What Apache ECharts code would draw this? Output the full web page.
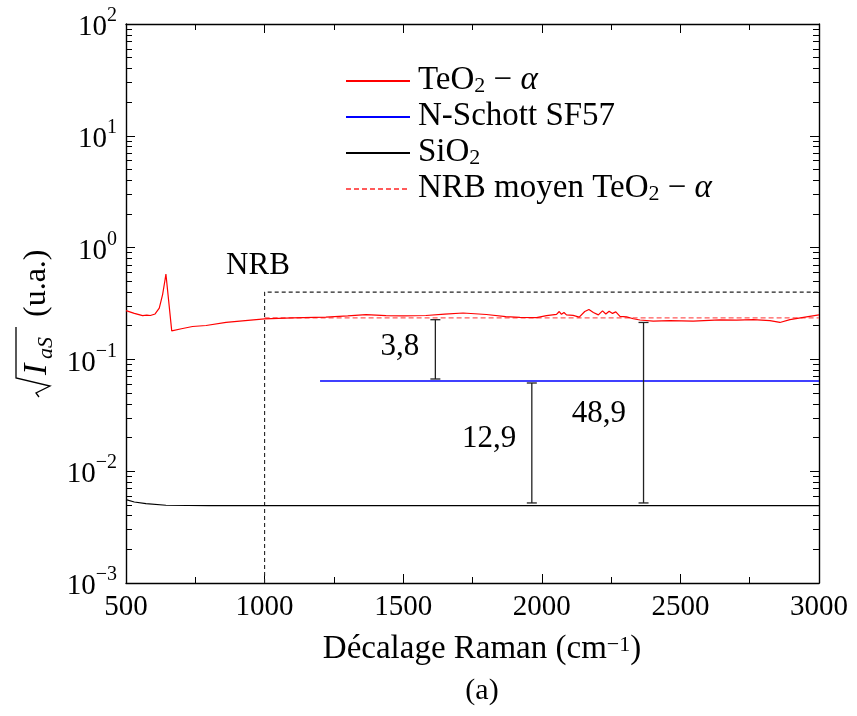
<!DOCTYPE html>
<html>
<head>
<meta charset="utf-8">
<script src="https://cdn.jsdelivr.net/npm/echarts@6/dist/echarts.min.js"></script>
<style>
html,body{margin:0;padding:0;background:#fff;}
#chart{width:857px;height:716px;}
</style>
</head>
<body>
<div id="chart"></div>
<script>
// ---- data ----
const redX = [500,530,560,575,582,588,593,605,620,632,640,644,665,700,740,789,861,930,1000,1100,1221,1300,1366,1438,1500,1582,1650,1716,1800,1870,1921,1981,2017,2053,2063,2071,2080,2089,2113,2135,2155,2170,2186,2204,2219,2231,2243,2255,2267,2282,2306,2330,2354,2402,2462,2546,2642,2703,2763,2823,2859,2895,2955,3000];
const redY = [0.273,0.258,0.246,0.249,0.255,0.247,0.239,0.255,0.288,0.38,0.5,0.58,0.18,0.188,0.197,0.201,0.214,0.222,0.23,0.235,0.239,0.245,0.251,0.246,0.245,0.247,0.254,0.26,0.252,0.241,0.238,0.236,0.246,0.253,0.268,0.253,0.263,0.25,0.248,0.239,0.268,0.279,0.263,0.25,0.272,0.255,0.27,0.258,0.266,0.243,0.24,0.231,0.225,0.22,0.222,0.22,0.226,0.225,0.227,0.222,0.214,0.227,0.24,0.25];
const blueX = [1200,3000];
const blueY = [0.0641,0.0641];
const blackX = [500,530,572,644,800,1000,2000,3000];
const blackY = [0.00556,0.0053,0.00512,0.00496,0.00493,0.00492,0.00492,0.00492];
const nrbMeanX = [1000,3000];
const nrbMeanY = [0.235,0.235];
const nrbBoxX = [1000,1000,3000];
const nrbBoxY = [0.001,0.4,0.4];
const barX = [1616,1964,2367];
const barLow = [0.0668,0.0052,0.0052];
const barHigh = [0.2265,0.0615,0.214];
const annText = ['3,8','12,9','48,9','NRB'];
const annX = [1488,1810,2206,976];
const annY = [0.130,0.0195,0.0327,0.689];
const xTicks = [500,1000,1500,2000,2500,3000];
const yTicks = [0.001,0.01,0.1,1,10,100];
const seriesNames = ['TeO2 − α','N-Schott SF57','SiO2','NRB moyen TeO2 − α'];
const seriesColors = ['#ff0000','#0000ff','#000000','#ff5a5a'];

// ---- helpers ----
const FONT = '"Liberation Serif", "DejaVu Serif", serif';
const zip = (xs, ys) => xs.map((x, i) => [x, ys[i]]);
const yMinor = [];
for (let e = -3; e <= 1; e++) for (let k = 2; k <= 9; k++) yMinor.push(+(k * Math.pow(10, e)).toPrecision(3));

function expLabel(v) {
  const e = Math.round(Math.log10(v));
  return '{b|10}{s|' + (e < 0 ? '−' + (-e) : e) + '}';
}
const tickRich = {
  b: {fontFamily: FONT, fontSize: 29, color: '#000', lineHeight: 36, verticalAlign: 'bottom'},
  s: {fontFamily: FONT, fontSize: 20, color: '#000', lineHeight: 20, verticalAlign: 'top'}
};
const txtRich = {
  n: {fontFamily: FONT, fontSize: 33, color: '#000', lineHeight: 32, verticalAlign: 'bottom'},
  sub: {fontFamily: FONT, fontSize: 22, color: '#000', lineHeight: 17, verticalAlign: 'bottom'},
  it: {fontFamily: FONT, fontSize: 33, fontStyle: 'italic', color: '#000', lineHeight: 32, verticalAlign: 'bottom'},
  sup: {fontFamily: FONT, fontSize: 22, color: '#000', lineHeight: 20, verticalAlign: 'top'}
};
function richName(name) {
  return name.split(/(2|α)/).filter(s => s).map(s => {
    if (s === '2') return '{sub|2}';
    if (s === 'α') return '{it|α}';
    return '{n|' + s + '}';
  }).join('');
}

const axisLineStyle = {color: '#000', width: 1.4};
const tickStyle = {color: '#000', width: 1};

const chart = echarts.init(document.getElementById('chart'), null, {renderer: 'canvas'});
chart.setOption({
  animation: false,
  backgroundColor: '#fff',
  grid: {left: 126, right: 38, top: 24, bottom: 133, containLabel: false},
  legend: {
    orient: 'vertical', left: 345, top: 64, padding: 0,
    itemWidth: 64, itemHeight: 14, itemGap: 3,
    data: seriesNames,
    formatter: name => richName(name),
    itemStyle: {opacity: 0},
    textStyle: {rich: txtRich, padding: [0, 0, 0, 3]}
  },
  xAxis: [
    {type: 'value', min: 500, max: 3000, interval: 500, position: 'bottom',
     axisLine: {lineStyle: axisLineStyle}, splitLine: {show: false},
     axisTick: {inside: true, length: 9, lineStyle: tickStyle},
     minorTick: {show: true, splitNumber: 2, length: 6, lineStyle: tickStyle},
     axisLabel: {fontFamily: FONT, fontSize: 29, color: '#000', margin: 10, customValues: xTicks,
       formatter: v => String(v)}},
    {type: 'value', min: 500, max: 3000, interval: 500, position: 'top',
     axisLine: {lineStyle: axisLineStyle}, splitLine: {show: false},
     axisTick: {inside: true, length: 9, lineStyle: tickStyle},
     minorTick: {show: true, splitNumber: 2, length: 6, lineStyle: tickStyle},
     axisLabel: {show: false}}
  ],
  yAxis: [
    {type: 'log', logBase: 10, min: 0.001, max: 100, position: 'left',
     axisLine: {lineStyle: axisLineStyle}, splitLine: {show: false},
     axisTick: {inside: true, length: 9, lineStyle: tickStyle, customValues: yTicks},
     axisLabel: {customValues: yTicks, formatter: expLabel, rich: tickRich, margin: 9}},
    {type: 'log', logBase: 10, min: 0.001, max: 100, position: 'right',
     axisLine: {lineStyle: axisLineStyle}, splitLine: {show: false},
     axisTick: {inside: true, length: 9, lineStyle: tickStyle, customValues: yTicks},
     axisLabel: {show: false}},
    {type: 'log', logBase: 10, min: 0.001, max: 100, position: 'left',
     axisLine: {show: false}, splitLine: {show: false},
     axisTick: {inside: true, length: 6, lineStyle: tickStyle, customValues: yMinor},
     axisLabel: {show: false}},
    {type: 'log', logBase: 10, min: 0.001, max: 100, position: 'right',
     axisLine: {show: false}, splitLine: {show: false},
     axisTick: {inside: true, length: 6, lineStyle: tickStyle, customValues: yMinor},
     axisLabel: {show: false}}
  ],
  series: [
    {name: 'NRB box', type: 'line', data: zip(nrbBoxX, nrbBoxY), symbol: 'none', silent: true,
     lineStyle: {color: '#222', width: 1.1, type: [4, 3]}, z: 2},
    {name: seriesNames[0], type: 'line', data: zip(redX, redY), symbol: 'none',
     itemStyle: {color: seriesColors[0]}, lineStyle: {color: seriesColors[0], width: 1.2}, z: 4},
    {name: seriesNames[1], type: 'line', data: zip(blueX, blueY), symbol: 'none',
     itemStyle: {color: seriesColors[1]}, lineStyle: {color: seriesColors[1], width: 1.4}, z: 4},
    {name: seriesNames[2], type: 'line', data: zip(blackX, blackY), symbol: 'none',
     itemStyle: {color: seriesColors[2]}, lineStyle: {color: seriesColors[2], width: 1.2}, z: 4},
    {name: seriesNames[3], type: 'line', data: zip(nrbMeanX, nrbMeanY), symbol: 'none',
     itemStyle: {color: seriesColors[3]}, lineStyle: {color: seriesColors[3], width: 1.4, type: [5, 3]}, z: 3},
    {name: 'ratios', type: 'custom', z: 5, silent: true,
     data: barX.map((x, i) => [x, barLow[i], barHigh[i]]),
     renderItem: function (params, api) {
       const lo = api.coord([api.value(0), api.value(1)]);
       const hi = api.coord([api.value(0), api.value(2)]);
       const w = 5;
       const st = {stroke: '#222', lineWidth: 1.3};
       return {type: 'group', children: [
         {type: 'line', shape: {x1: lo[0], y1: lo[1], x2: hi[0], y2: hi[1]}, style: st},
         {type: 'line', shape: {x1: lo[0] - w, y1: lo[1], x2: lo[0] + w, y2: lo[1]}, style: st},
         {type: 'line', shape: {x1: hi[0] - w, y1: hi[1], x2: hi[0] + w, y2: hi[1]}, style: st}
       ]};
     }},
    {name: 'annotations', type: 'scatter', symbolSize: 0, silent: true, z: 6,
     itemStyle: {opacity: 1},
     data: annX.map((x, i) => ({value: [x, annY[i]], label: {show: true, formatter: annText[i]}})),
     label: {show: true, position: 'inside', fontFamily: FONT, fontSize: 31, color: '#000', opacity: 1}}
  ],
  graphic: [
    {type: 'text', style: {
      text: '{n|Décalage Raman (cm}{sup|−1}{n|)}', rich: txtRich, x: 482, y: 650,
      align: 'center', verticalAlign: 'middle'}},
    {type: 'text', style: {text: '(a)', fontFamily: FONT, fontSize: 30, fill: '#000',
      x: 482, y: 691, align: 'center', verticalAlign: 'middle'}},
    {type: 'group', x: 36, y: 397, rotation: Math.PI / 2, children: [
      {type: 'polyline', shape: {points: [[0, 3], [4, 0], [11, 14], [19, -20], [70, -20]]},
       style: {stroke: '#000', lineWidth: 1.3, fill: null}},
      {type: 'text', style: {text: 'I', fontFamily: FONT, fontSize: 34, fontStyle: 'italic', fill: '#000',
        x: 22, y: 1, align: 'left', verticalAlign: 'middle'}},
      {type: 'text', style: {text: 'aS', fontFamily: FONT, fontSize: 22, fontStyle: 'italic', fill: '#000',
        x: 38, y: 10, align: 'left', verticalAlign: 'middle'}},
      {type: 'text', style: {text: '(u.a.)', fontFamily: FONT, fontSize: 32, fill: '#000',
        x: 80, y: 1, align: 'left', verticalAlign: 'middle'}}
    ]}
  ]
});
</script>
</body>
</html>
